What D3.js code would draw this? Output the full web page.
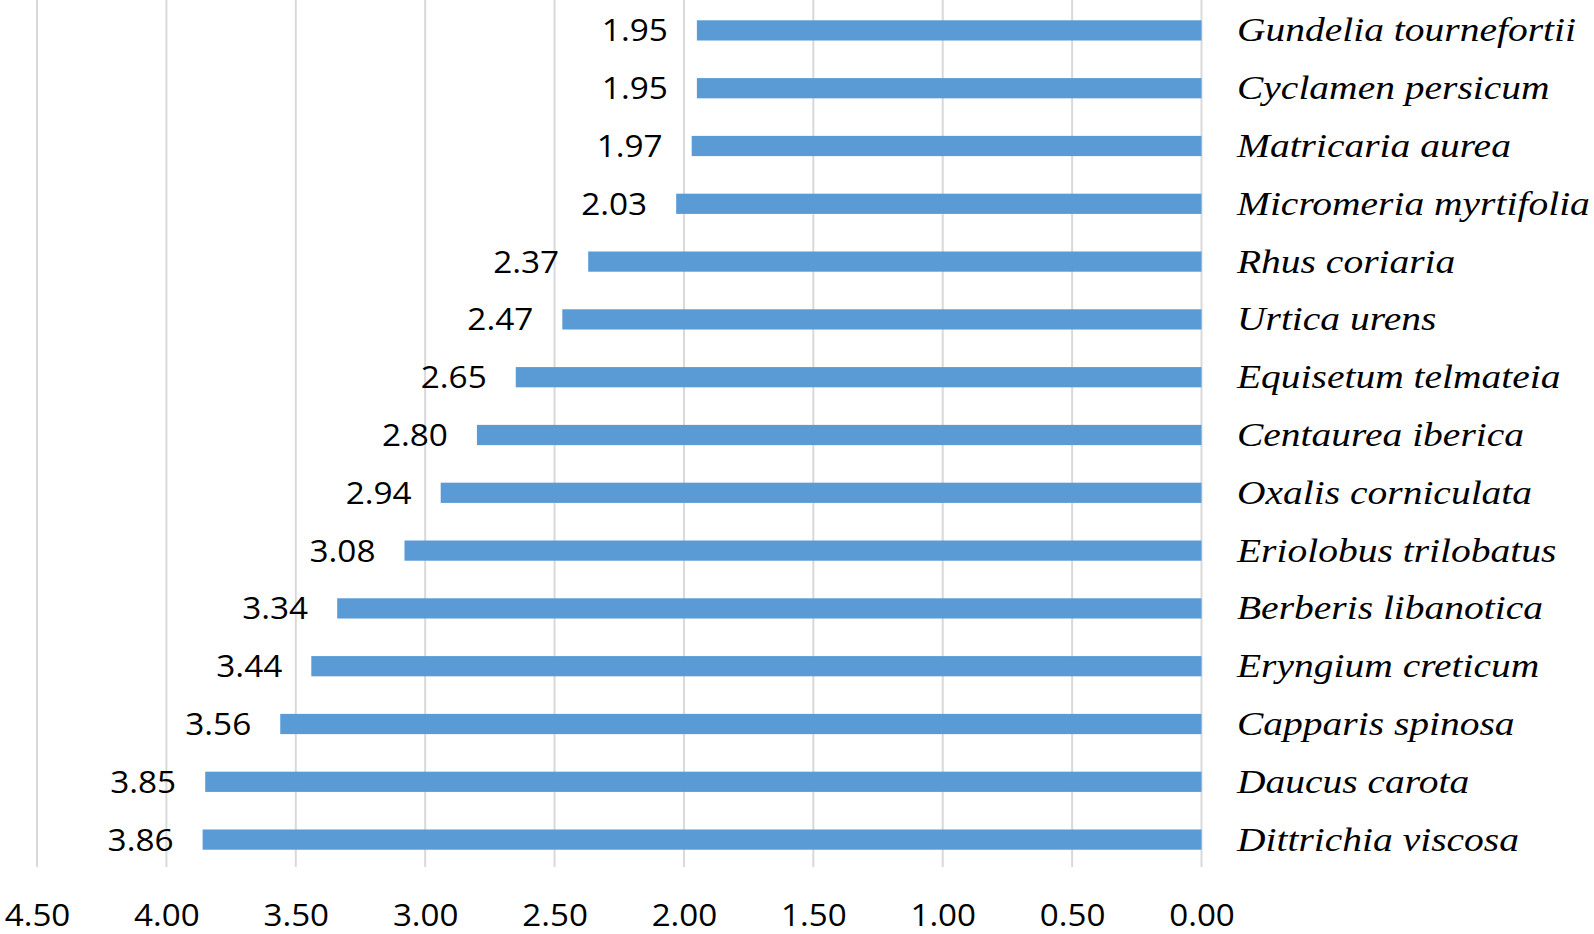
<!DOCTYPE html>
<html>
<head>
<meta charset="utf-8">
<script src="https://cdn.jsdelivr.net/npm/d3@7"></script>
<style>
html, body { margin: 0; padding: 0; background: #fff; }
svg { display: block; }
</style>
</head>
<body>
<svg id="chart" width="1594" height="934"></svg>
<script>
const species = [
  "Gundelia tournefortii", "Cyclamen persicum", "Matricaria aurea", "Micromeria myrtifolia",
  "Rhus coriaria", "Urtica urens", "Equisetum telmateia", "Centaurea iberica",
  "Oxalis corniculata", "Eriolobus trilobatus", "Berberis libanotica", "Eryngium creticum",
  "Capparis spinosa", "Daucus carota", "Dittrichia viscosa"
];
const values = [1.95, 1.95, 1.97, 2.03, 2.37, 2.47, 2.65, 2.80, 2.94, 3.08, 3.34, 3.44, 3.56, 3.85, 3.86];
const tickValues = [0, 0.5, 1, 1.5, 2, 2.5, 3, 3.5, 4, 4.5];

const svg = d3.select("#chart");
const plotTop = 0, plotBottom = 867;
const x = d3.scaleLinear().domain([0, 4.5]).range([1201.5, 37]);
const y = d3.scaleBand().domain(species).range([plotTop + 1.5, plotBottom + 1.5]).paddingInner(0.65).paddingOuter(0.325);

// gridlines
svg.append("g").selectAll("line").data(tickValues).join("line")
  .attr("x1", d => x(d)).attr("x2", d => x(d))
  .attr("y1", plotTop).attr("y2", plotBottom)
  .attr("stroke", "#d9d9d9").attr("stroke-width", 2);

// bars
svg.append("g").selectAll("rect").data(values).join("rect")
  .attr("x", d => x(d))
  .attr("width", d => x(0) - x(d))
  .attr("y", (d, i) => y(species[i]))
  .attr("height", y.bandwidth())
  .attr("fill", "#5b9bd5");

// value labels
svg.append("g").selectAll("text").data(values).join("text")
  .attr("transform", (d, i) => `translate(${x(d) - 29}, ${y(species[i]) + y.bandwidth() / 2 + 11}) scale(1.06,1)`)
  .attr("text-anchor", "end")
  .attr("font-family", "'Open Sans', sans-serif")
  .attr("font-size", 31.5)
  .attr("fill", "#000")
  .text(d => d.toFixed(2));

// species labels
svg.append("g").selectAll("text").data(species).join("text")
  .attr("transform", d => `translate(${x(0) + 35.5}, ${y(d) + y.bandwidth() / 2 + 11}) scale(1.145,1)`)
  .attr("font-family", "'Liberation Serif', 'Times New Roman', serif")
  .attr("font-style", "italic")
  .attr("font-size", 34.5)
  .attr("fill", "#000")
  .text(d => d);

// x axis
const axis = d3.axisBottom(x).tickValues(tickValues).tickFormat(d3.format(".2f")).tickSize(0).tickPadding(0);
const gAxis = svg.append("g").attr("transform", `translate(0, ${plotBottom})`).call(axis);
gAxis.select(".domain").remove();
gAxis.selectAll("text")
  .attr("y", null)
  .attr("dy", null)
  .attr("transform", `translate(0, ${925.5 - plotBottom}) scale(1.07,1)`)
  .attr("font-family", "'Open Sans', sans-serif")
  .attr("font-size", 31)
  .attr("fill", "#000");
</script>
</body>
</html>
